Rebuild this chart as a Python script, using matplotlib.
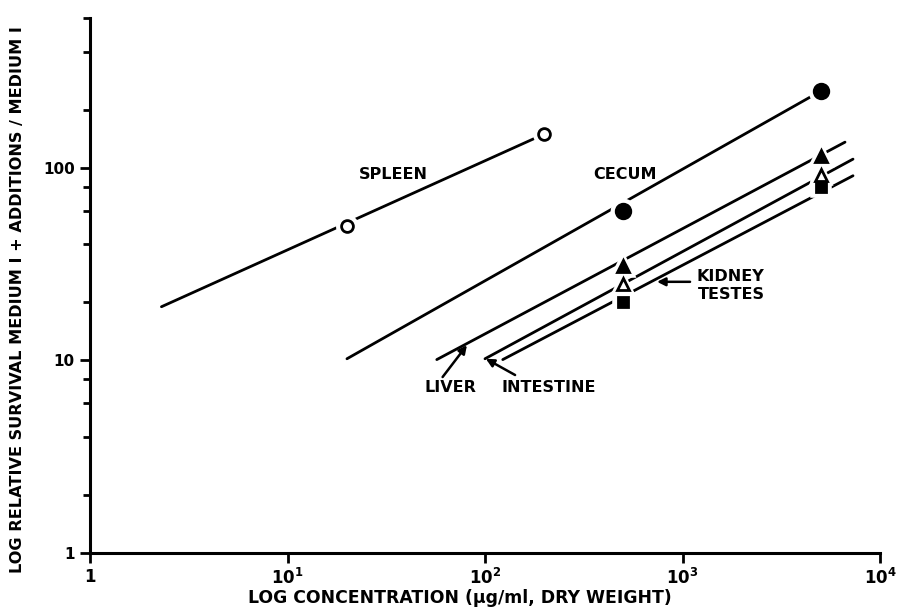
import matplotlib
matplotlib.use("Agg")
import matplotlib.pyplot as plt
from matplotlib.ticker import FixedLocator, NullFormatter

# ---- data ----
conc_pts = [500, 5000]
spleen_x = [20, 200]
spleen_y = [50, 150]
cecum_y = [60, 250]
liver_y = [31, 115]
intestine_y = [25, 92]
kidney_testes_y = [20, 80]

# fitted straight lines (end points)
spleen_line_x = [2.3, 200]
spleen_line_y = [19, 150]
cecum_line_x = [20, 5000]
cecum_line_y = [10.2, 250]
liver_line_x = [57, 6650]
liver_line_y = [10.1, 136]
intestine_line_x = [100, 7300]
intestine_line_y = [10.2, 111]
kt_line_x = [123, 7300]
kt_line_y = [10.1, 91]

x_major = [1, 10, 100, 1000, 10000]
x_labels = ["1", r"$\mathbf{10^{1}}$", r"$\mathbf{10^{2}}$", r"$\mathbf{10^{3}}$", r"$\mathbf{10^{4}}$"]
y_major = [1, 10, 100]
y_labels = ["1", "10", "100"]
y_minor = [2, 4, 6, 8, 20, 40, 60, 80, 200, 400, 600]

plt.rcParams['font.family'] = ['DejaVu Sans']
plt.rcParams['font.weight'] = 'bold'
plt.rcParams['mathtext.fontset'] = 'dejavusans'

fig = plt.figure(figsize=(8.98, 6.08), dpi=100)
ax = fig.add_axes([90/898, 1-553/608, (880-90)/898, (553-18)/608])
ax.set_xscale('log')
ax.set_yscale('log')
ax.set_xlim(1, 10000)
ax.set_ylim(1, 600)

lw = 2.0
for lx, ly in [(spleen_line_x, spleen_line_y), (cecum_line_x, cecum_line_y),
               (liver_line_x, liver_line_y), (intestine_line_x, intestine_line_y),
               (kt_line_x, kt_line_y)]:
    ax.plot(lx, ly, color='black', lw=lw, solid_capstyle='round', zorder=2)

def marks(x, y, marker, ms, filled):
    # white halo to leave a gap in the line around the marker
    ax.plot(x, y, linestyle='none', marker=marker, ms=ms + 4, color='white',
            mec='white', mew=4, zorder=3)
    ax.plot(x, y, linestyle='none', marker=marker, ms=ms,
            mfc='black' if filled else 'white', mec='black', mew=2, zorder=4)

marks(spleen_x, spleen_y, 'o', 8.5, False)
marks(conc_pts, cecum_y, 'o', 10.5, True)
marks(conc_pts, liver_y, '^', 8.5, True)
marks(conc_pts, intestine_y, '^', 8, False)
marks(conc_pts, kidney_testes_y, 's', 7.5, True)

fs = 11.5
ax.text(34.2, 92, "SPLEEN", ha='center', va='center', fontsize=fs, fontweight='bold')
ax.text(512, 92, "CECUM", ha='center', va='center', fontsize=fs, fontweight='bold')
ax.text(67, 7.2, "LIVER", ha='center', va='center', fontsize=fs, fontweight='bold')
ax.text(211, 7.2, "INTESTINE", ha='center', va='center', fontsize=fs, fontweight='bold')
ax.text(1184, 27.2, "KIDNEY", ha='left', va='center', fontsize=fs, fontweight='bold')
ax.text(1200, 21.9, "TESTES", ha='left', va='center', fontsize=fs, fontweight='bold')

ap = dict(arrowstyle='-|>', color='black', lw=1.8, mutation_scale=12, shrinkA=0, shrinkB=0)
ax.annotate("", xy=(81, 12.0), xytext=(61, 8.2), arrowprops=ap)
ax.annotate("", xy=(101, 10.2), xytext=(142, 8.4), arrowprops=ap)
ax.annotate("", xy=(743, 25.6), xytext=(1092, 25.6), arrowprops=ap)

for s in ['top', 'right']:
    ax.spines[s].set_visible(False)
for s in ['left', 'bottom']:
    ax.spines[s].set_linewidth(2.2)

ax.xaxis.set_major_locator(FixedLocator(x_major))
ax.set_xticklabels(x_labels, fontsize=12, fontweight='bold')
ax.xaxis.set_minor_locator(FixedLocator([]))
ax.yaxis.set_major_locator(FixedLocator(y_major))
ax.set_yticklabels(y_labels, fontsize=11, fontweight='bold')
ax.yaxis.set_minor_locator(FixedLocator(y_minor))
ax.yaxis.set_minor_formatter(NullFormatter())
ax.tick_params(axis='both', which='major', length=7, width=2, direction='out', pad=4)
ax.tick_params(axis='y', which='minor', length=5, width=2, direction='out')

fig.text(18/898, 1-300/608, "LOG RELATIVE SURVIVAL MEDIUM I + ADDITIONS / MEDIUM I",
         rotation=90, ha='center', va='center', fontsize=11.6, fontweight='bold')
fig.text(460/898, 1-598/608, "LOG CONCENTRATION (μg/ml, DRY WEIGHT)",
         ha='center', va='center', fontsize=12.4, fontweight='bold')

fig.savefig("out.png", dpi=100)
